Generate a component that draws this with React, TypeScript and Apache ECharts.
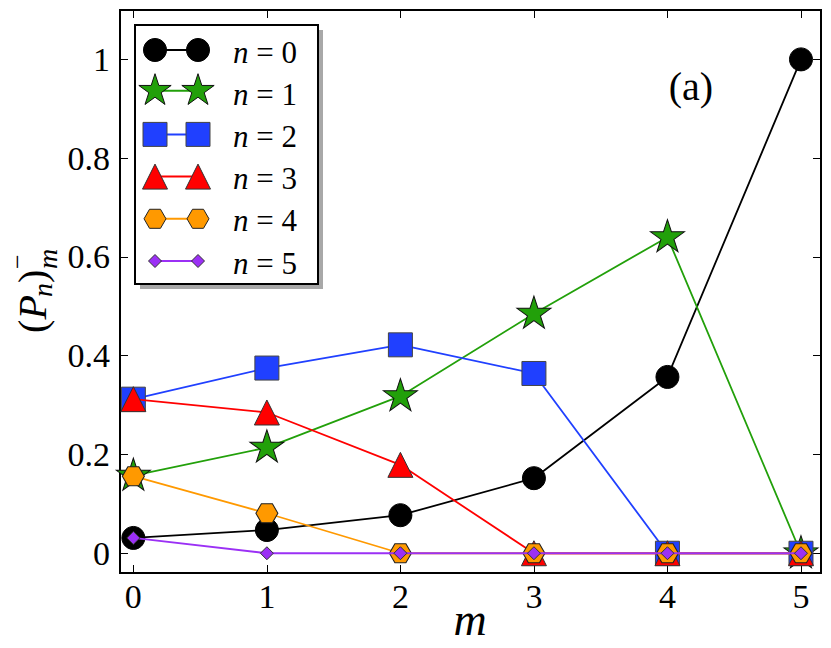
import React, { useEffect, useRef } from "react";
import * as echarts from "echarts";

// ---------- data ----------
const M_VALUES = [0, 1, 2, 3, 4, 5];
const N_VALUES = [0, 1, 2, 3, 4, 5];
const P_N0 = [0.031, 0.047, 0.077, 0.152, 0.357, 1.0];
const P_N1 = [0.157, 0.214, 0.318, 0.485, 0.64, 0.0];
const P_N2 = [0.312, 0.375, 0.422, 0.364, 0.0, 0.0];
const P_N3 = [0.312, 0.285, 0.179, 0.0, 0.0, 0.0];
const P_N4 = [0.156, 0.081, 0.0, 0.0, 0.0, 0.0];
const P_N5 = [0.031, 0.0, 0.0, 0.0, 0.0, 0.0];
const SERIES_VALUES = [P_N0, P_N1, P_N2, P_N3, P_N4, P_N5];
const X_TICKS = [0, 1, 2, 3, 4, 5];
const Y_TICKS = [0, 0.2, 0.4, 0.6, 0.8, 1];
const PANEL_LABEL = "(a)";
const X_LABEL = "m";

// ---------- styles ----------
const FONT = "Liberation Serif, DejaVu Serif, serif";
const COLORS = ["#000000", "#22a00a", "#2040ff", "#ff0000", "#ff9900", "#9b30f5"];
const EDGES = ["#000000", "#111111", "#444444", "#333333", "#222222", "#333333"];

function starPts(cx: number, cy: number, R: number) {
  const pts: number[][] = [];
  for (let i = 0; i < 10; i++) {
    const a = -Math.PI / 2 + (i * Math.PI) / 5;
    const r = i % 2 === 0 ? R : R * 0.381966;
    pts.push([cx + r * Math.cos(a), cy + r * Math.sin(a)]);
  }
  return pts;
}
function hexPts(cx: number, cy: number, r: number) {
  const pts: number[][] = [];
  for (let i = 0; i < 6; i++) {
    const a = (i * Math.PI) / 3;
    pts.push([cx + r * Math.cos(a), cy + r * Math.sin(a)]);
  }
  return pts;
}
function toPath(pts: number[][]) {
  return (
    "path://M" +
    pts.map((p) => p[0].toFixed(4) + " " + p[1].toFixed(4)).join(" L") +
    " Z"
  );
}
const STAR_PATH = toPath(starPts(0, 0, 10));
const HEX_PATH = toPath(hexPts(0, 0, 10));

const SYMBOLS: any[] = ["circle", STAR_PATH, "rect", "triangle", HEX_PATH, "diamond"];
const SYMBOL_SIZES: any[] = [23, [34, 32], 24, 25, [22, 19], 13];
const SYMBOL_OFFSETS: any[] = [[0, 0], [0, -1.6], [0, 0], [0, 0], [0, 0], [0, 0]];

function legendMarker(i: number, cx: number, cy: number) {
  const style = { fill: COLORS[i], stroke: EDGES[i], lineWidth: 1 };
  const z = 12;
  switch (i) {
    case 0:
      return { type: "circle", z, shape: { cx, cy, r: 11.5 }, style };
    case 1:
      return { type: "polygon", z, shape: { points: starPts(cx, cy, 17) }, style };
    case 2:
      return { type: "rect", z, shape: { x: cx - 12, y: cy - 12, width: 24, height: 24 }, style };
    case 3:
      return {
        type: "polygon",
        z,
        shape: { points: [[cx, cy - 12.5], [cx - 12.5, cy + 12.5], [cx + 12.5, cy + 12.5]] },
        style,
      };
    case 4:
      return { type: "polygon", z, shape: { points: hexPts(cx, cy, 11) }, style };
    default:
      return {
        type: "polygon",
        z,
        shape: { points: [[cx, cy - 6.5], [cx + 6.5, cy], [cx, cy + 6.5], [cx - 6.5, cy]] },
        style,
      };
  }
}

function buildLegend() {
  const els: any[] = [];
  const bx = 135, by = 25, bw = 183, bh = 259;
  els.push({ type: "rect", z: 10, shape: { x: bx + 5, y: by + 5, width: bw, height: bh }, style: { fill: "#a8a8a8" } });
  els.push({ type: "rect", z: 11, shape: { x: bx, y: by, width: bw, height: bh }, style: { fill: "#ffffff", stroke: "#000", lineWidth: 2 } });
  N_VALUES.forEach((n, i) => {
    const cy = 50 + i * 42.2 + (i === 1 ? -1.5 : 0);
    const x1 = 155, x2 = 198;
    els.push({
      type: "line",
      z: 12,
      shape: { x1, y1: cy, x2, y2: cy },
      style: { stroke: COLORS[i], lineWidth: 2 },
    });
    els.push(legendMarker(i, x1, cy));
    els.push(legendMarker(i, x2, cy));
    els.push({
      type: "text",
      z: 12,
      x: 233,
      y: 50 + i * 42.2 + 2,
      style: {
        text: "{i|n} = " + n,
        fontSize: 31,
        fontFamily: FONT,
        fill: "#000",
        align: "left",
        textAlign: "left",
        verticalAlign: "middle",
        textVerticalAlign: "middle",
        rich: { i: { fontStyle: "italic", fontSize: 31, fontFamily: FONT, fill: "#000" } },
      },
    });
  });
  return els;
}

function txt(text: string, x: number, y: number, size: number, italic: boolean, align = "left") {
  return {
    type: "text",
    x,
    y,
    style: {
      text,
      fontSize: size,
      fontFamily: FONT,
      fontStyle: italic ? "italic" : "normal",
      fill: "#000",
      align,
      textAlign: align,
      verticalAlign: "middle",
      textVerticalAlign: "middle",
    },
  };
}

function buildYLabel() {
  // local x runs along the reading direction (screen up), local y = 0 is the baseline
  return {
    type: "group",
    x: 46,
    y: 333,
    rotation: Math.PI / 2,
    z: 5,
    children: [
      txt("(", 0, -13.5, 40, false),
      txt("P", 13.5, -13.5, 40, true),
      txt("n", 36, -3.5, 28, true),
      txt(")", 50, -13.5, 40, false),
      txt("\u2212", 64, -29, 26, false),
      txt("m", 64, 1.5, 28, true),
    ],
  };
}

export default function App() {
  const ref = useRef<HTMLDivElement>(null);
  useEffect(() => {
    if (!ref.current) return;
    const chart = echarts.init(ref.current, null, { renderer: "svg" });
    const tickCommon = {
      show: true,
      inside: true,
      length: 8,
      lineStyle: { color: "#000", width: 1 },
    };
    const lineOff = { show: false, onZero: false };
    const labelCommon = { fontFamily: FONT, fontSize: 34, color: "#000" };
    const series = SERIES_VALUES.map((vals, i) => ({
      type: "line",
      name: "n = " + N_VALUES[i],
      data: M_VALUES.map((m, j) => [m, vals[j]]),
      symbol: SYMBOLS[i],
      symbolSize: SYMBOL_SIZES[i],
      symbolOffset: SYMBOL_OFFSETS[i],
      showSymbol: true,
      showAllSymbol: true,
      clip: false,
      silent: true,
      z: 2 + i,
      lineStyle: { color: COLORS[i], width: 1.8 },
      itemStyle: { color: COLORS[i], borderColor: EDGES[i], borderWidth: 1, opacity: 1 },
      emphasis: { disabled: true },
    }));
    chart.setOption({
      animation: false,
      backgroundColor: "#ffffff",
      grid: {
        left: 120,
        right: 10,
        top: 10,
        bottom: 75,
        containLabel: false,
        outerBoundsMode: "none",
        show: true,
        borderColor: "#000",
        borderWidth: 2,
        backgroundColor: "transparent",
      },
      xAxis: [
        {
          type: "value",
          min: -0.1,
          max: 5.15,
          position: "bottom",
          axisLine: lineOff,
          axisTick: { ...tickCommon, customValues: X_TICKS },
          axisLabel: { ...labelCommon, margin: 6, customValues: X_TICKS, formatter: (v: number) => String(v) },
          splitLine: { show: false },
        },
        {
          type: "value",
          min: -0.1,
          max: 5.15,
          position: "top",
          axisLine: lineOff,
          axisTick: { ...tickCommon, customValues: X_TICKS },
          axisLabel: { show: false },
          splitLine: { show: false },
        },
      ],
      yAxis: [
        {
          type: "value",
          min: -0.04,
          max: 1.1,
          position: "left",
          axisLine: lineOff,
          axisTick: { ...tickCommon, customValues: Y_TICKS },
          axisLabel: { ...labelCommon, margin: 10, customValues: Y_TICKS, formatter: (v: number) => String(v) },
          splitLine: { show: false },
        },
        {
          type: "value",
          min: -0.04,
          max: 1.1,
          position: "right",
          axisLine: lineOff,
          axisTick: { ...tickCommon, customValues: Y_TICKS },
          axisLabel: { show: false },
          splitLine: { show: false },
        },
      ],
      graphic: [
        ...buildLegend(),
        buildYLabel(),
        { ...txt(X_LABEL, 470, 619, 46, true, "center"), z: 5 },
        { ...txt(PANEL_LABEL, 691, 86, 40, false, "center"), z: 5 },
      ],
      series,
    });
    return () => chart.dispose();
  }, []);
  return (
    <div
      ref={ref}
      style={{ position: "absolute", left: 0, top: 0, width: 831, height: 648, background: "#fff" }}
    />
  );
}
